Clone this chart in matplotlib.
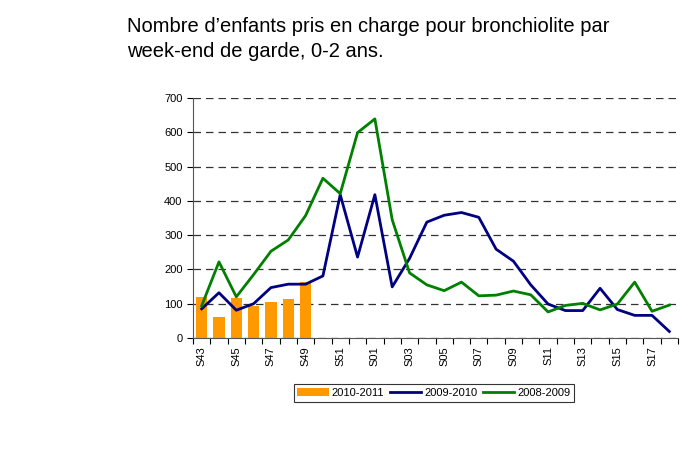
import matplotlib.pyplot as plt
import numpy as np

plt.rcParams['font.family'] = ['Liberation Sans', 'DejaVu Sans']

# Semaines S43..S52 puis S01..S18
semaines = ["S%02d" % s for s in list(range(43, 53)) + list(range(1, 19))]

s2010_2011 = [120, 62, 118, 92, 106, 115, 163]

s2009_2010 = [85, 132, 81, 100, 147, 157, 157, 181, 418, 236,
              418, 149, 232, 338, 358, 366, 352, 259, 224, 155,
              99, 80, 80, 145, 83, 66, 66, 19]

s2008_2009 = [94, 222, 120, 185, 253, 286, 357, 466, 421, 599,
              639, 345, 190, 155, 138, 163, 123, 125, 137, 126,
              76, 95, 101, 82, 99, 163, 78, 96]

titre = ["Nombre d\u2019enfants pris en charge pour bronchiolite par",
         "week-end de garde, 0-2 ans."]

fig = plt.figure(figsize=(6.88, 4.66), dpi=100)
ax = fig.add_axes([193/688, 1 - 338/466, 485/688, 240/466])

x = np.arange(len(semaines))
barres = ax.bar(x[:len(s2010_2011)], s2010_2011, width=0.66, color="#FF9900",
                label="2010-2011", zorder=2)
l1, = ax.plot(x, s2009_2010, color="#000080", lw=2, label="2009-2010", zorder=3)
l2, = ax.plot(x, s2008_2009, color="#008000", lw=2, label="2008-2009", zorder=3)

ax.set_xlim(-0.5, len(semaines) - 0.5)
ax.set_ylim(0, 700)
ax.set_yticks(range(0, 701, 100))
ax.yaxis.grid(True, linestyle=(0, (6, 4)), color="#333333", lw=0.9)
ax.set_axisbelow(True)

# graduations entre les categories, etiquettes une sur deux
ax.set_xticks(np.arange(-0.5, len(semaines), 1))
ax.set_xticklabels([])
ax.set_xticks(x[::2], minor=True)
ax.set_xticklabels(semaines[::2], minor=True, rotation=90, fontsize=8)
ax.tick_params(axis="x", which="minor", length=0, pad=6)
ax.tick_params(axis="x", which="major", length=4, direction="out")
ax.tick_params(axis="y", labelsize=8, length=4, direction="out")

for s in ["top", "right"]:
    ax.spines[s].set_visible(False)
for s in ["left", "bottom"]:
    ax.spines[s].set_color("#555555")

fig.text(127/688, 1 - 32/466, titre[0], fontsize=14.5, va="baseline", ha="left")
fig.text(127/688, 1 - 57/466, titre[1], fontsize=14.5, va="baseline", ha="left")

leg = ax.legend([barres, l1, l2], ["2010-2011", "2009-2010", "2008-2009"],
                loc="center", bbox_to_anchor=(434/688, 1 - 393/466),
                bbox_transform=fig.transFigure, ncol=3, fontsize=8,
                frameon=True, fancybox=False, edgecolor="black",
                handlelength=2.8, handletextpad=0.3, columnspacing=0.5,
                borderpad=0.35)
leg.get_frame().set_linewidth(0.8)

fig.savefig("out.png", dpi=100)
